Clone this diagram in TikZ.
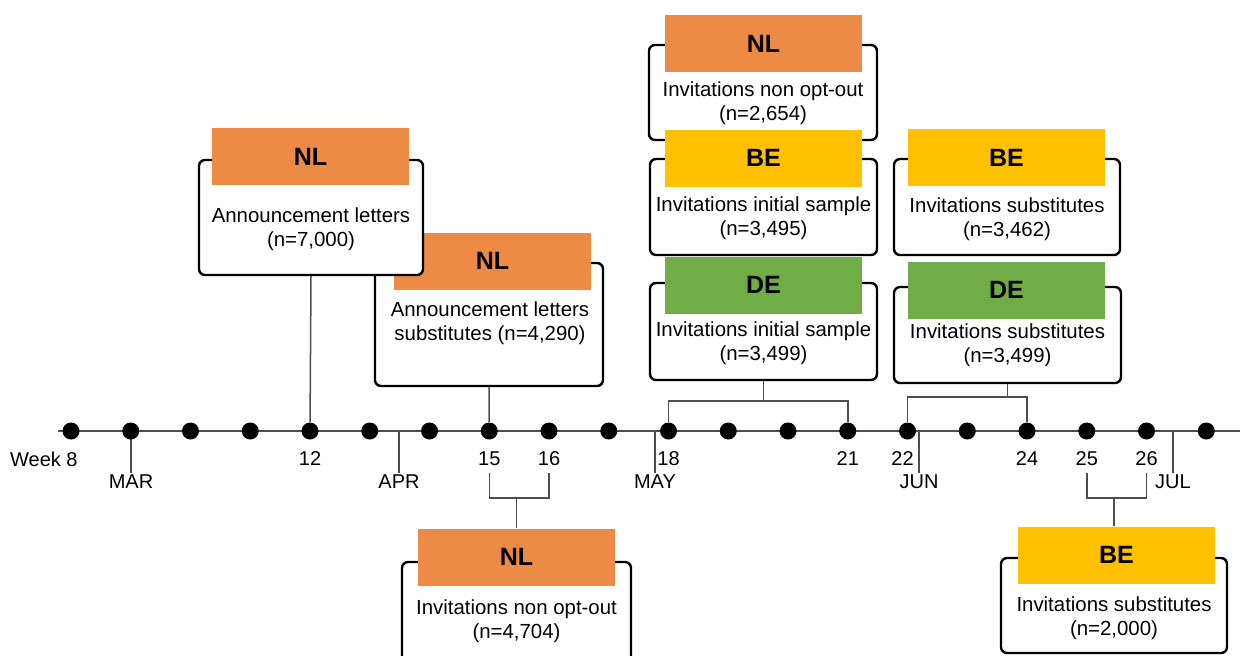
\documentclass[tikz,border=0pt]{standalone}
\usepackage{fontspec}
\setmainfont{Liberation Sans}
\usetikzlibrary{positioning,calc}
\definecolor{clNL}{HTML}{ED8A45}
\definecolor{clBE}{HTML}{FFC000}
\definecolor{clDE}{HTML}{70AD47}
\definecolor{clLine}{HTML}{4D4D4D}
\tikzset{
  panel/.style={rectangle, draw=black, line width=1.2pt, rounded corners=3pt,
                fill=white, minimum width=113.5pt, minimum height=48pt, inner sep=0pt},
  tag/.style={rectangle, inner sep=0pt, minimum width=98.5pt, minimum height=28.5pt,
              font=\fontsize{12.5}{15}\selectfont\bfseries},
  tagNL/.style={tag, fill=clNL},
  tagBE/.style={tag, fill=clBE},
  tagDE/.style={tag, fill=clDE},
  body/.style={align=center, font=\fontsize{10.2}{12.2}\selectfont, inner sep=0pt},
  weekdot/.style={circle, fill=black, minimum size=8.5pt, inner sep=0pt},
  weeklbl/.style={font=\fontsize{10}{12}\selectfont, inner sep=0pt},
  monthlbl/.style={font=\fontsize{10}{12}\selectfont, inner sep=1pt},
  axisline/.style={draw=clLine, line width=1pt},
  conn/.style={draw=clLine, line width=0.75pt},
}
\begin{document}
\begin{tikzpicture}[x=0.5pt, y=-0.5pt]
  \useasboundingbox (0,0) rectangle (1240,655);
  % timeline
  \coordinate (axL) at (58,431);
  \coordinate (axR) at (1240,431);
  \draw[axisline] (axL) -- (axR);
  \foreach \m/\x in {MAR/131, APR/399, MAY/655, JUN/919, JUL/1173} {
    \coordinate (t\m) at (\x,431);
    \node[monthlbl] (\m) at (\x,482) {\m};
    \draw[conn] (t\m) -- (\m.north);
  }
  \foreach \w in {8,...,27}
    \node[weekdot] (w\w) at ({71+(\w-8)*59.75},431) {};
  \node[weeklbl, anchor=east] (l8) at ([xshift=3.5pt,yshift=-14pt]w8) {Week 8};
  \foreach \w in {12,15,16,18,21,24,25,26}
    \node[weeklbl] (l\w) at ([yshift=-14pt]w\w) {\w};
  \node[weeklbl] (l22) at ([xshift=-2.5pt,yshift=-14pt]w22) {22};

  % NL announcement letters, substitutes (sits behind the first one)
  \node[panel, minimum width=114pt, minimum height=61.5pt] (annSub) at (489,324.5) {};
  \node[tagNL] (annSubTag) at (492.5,261) {NL};
  \node[body] (annSubTxt) at (490,323) {Announcement letters\\substitutes (n=4,290)};

  % NL announcement letters
  \node[panel, minimum width=112pt, minimum height=57.5pt] (ann) at (311,217.5) {};
  \node[tagNL] (annTag) at (310.5,156.5) {NL};
  \node[body] (annTxt) at (311,229) {Announcement letters\\(n=7,000)};

  % week 18-21 stack
  \node[panel, minimum width=114pt, minimum height=47.5pt] (optTop) at (763,92.5) {};
  \node[tagNL] (optTopTag) at (763.5,43.5) {NL};
  \node[body] (optTopTxt) at (763,103) {Invitations non opt-out\\(n=2,654)};

  \node[panel] (beInit) at (763.5,207) {};
  \node[tagBE] (beInitTag) at (763.5,158) {BE};
  \node[body] (beInitTxt) at (763.5,218) {Invitations initial sample\\(n=3,495)};

  \node[panel, minimum height=48.5pt] (deInit) at (763.5,331.5) {};
  \node[tagDE] (deInitTag) at (763.5,285) {DE};
  \node[body] (deInitTxt) at (763.5,343) {Invitations initial sample\\(n=3,499)};

  % week 22-24 stack
  \node[panel, minimum width=113pt] (beSub) at (1007,207) {};
  \node[tagBE] (beSubTag) at (1006.5,157.5) {BE};
  \node[body] (beSubTxt) at (1007,219) {Invitations substitutes\\(n=3,462)};

  \node[panel] (deSub) at (1007.5,335) {};
  \node[tagDE] (deSubTag) at (1006.5,290) {DE};
  \node[body] (deSubTxt) at (1007.5,345) {Invitations substitutes\\(n=3,499)};

  % below the axis
  \node[panel, minimum width=114.5pt, minimum height=58pt] (opt) at (516.5,620) {};
  \node[tagNL] (optTag) at (516.5,557) {NL};
  \node[body] (optTxt) at (516.5,621.5) {Invitations non opt-out\\(n=4,704)};

  \node[panel, minimum width=113pt, minimum height=47.5pt] (beSub2) at (1114,605.5) {};
  \node[tagBE] (beSub2Tag) at (1116.5,555) {BE};
  \node[body] (beSub2Txt) at (1114,618.5) {Invitations substitutes\\(n=2,000)};

  % connectors
  \draw[conn] (ann.south) -- (w12);
  \draw[conn] (annSub.south) -- (w15);
  \coordinate (deJoin) at ($(deInit.south)+(0,20)$);
  \draw[conn] (deInit.south) -- (deJoin);
  \draw[conn] (w18) |- (deJoin) -| (w21);
  \coordinate (deSubJoin) at ($(deSub.south)+(0,13)$);
  \draw[conn] (deSub.south) -- (deSubJoin);
  \draw[conn] (w22) |- (deSubJoin) -| (w24);
  \coordinate (optJoin) at (516.5,498);
  \draw[conn] ([yshift=-3.5pt]l15.south) |- (optJoin) -| ([yshift=-3.5pt]l16.south);
  \draw[conn] (optJoin) -- (optJoin |- optTag.north);
  \coordinate (beJoin) at (1114,498);
  \draw[conn] ([yshift=-3.5pt]l25.south) |- (beJoin) -| ([yshift=-3.5pt]l26.south);
  \draw[conn] (beJoin) -- (beJoin |- beSub2Tag.north);
\end{tikzpicture}
\end{document}
